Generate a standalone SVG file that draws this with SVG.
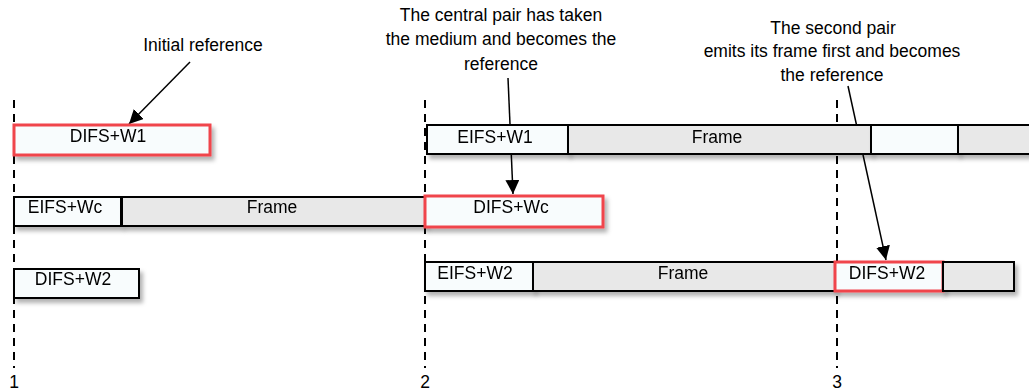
<svg xmlns="http://www.w3.org/2000/svg" width="1029" height="392" viewBox="0 0 1029 392">
<defs>
<filter id="sh" x="-5%" y="-20%" width="115%" height="160%">
<feDropShadow dx="3" dy="4" stdDeviation="2" flood-color="#000" flood-opacity="0.3"/>
</filter>
<marker id="ah2" viewBox="0 0 14 14" refX="14" refY="7" markerWidth="14" markerHeight="14" markerUnits="userSpaceOnUse" orient="auto">
<path d="M0,0 L14,7 L0,14 z" fill="#000"/>
</marker>
</defs>
<style>
text{font-family:"Liberation Sans",Arial,sans-serif;font-size:17.5px;fill:#000;text-anchor:middle}
.b{font-size:17.5px}
.w{fill:#f8fcfd;stroke:#000;stroke-width:2}
.g{fill:#e8e8e8;stroke:#000;stroke-width:2}
.r{fill:#f8fcfd;stroke:#f0444c;stroke-width:3}
.d{stroke:#000;stroke-width:2;stroke-dasharray:8 6;fill:none}
.c{stroke:#000;stroke-width:1.5;fill:none}
</style>
<g id="timelines">
<line class="d" x1="14" y1="100" x2="14" y2="368"/>
<line class="d" x1="425" y1="100" x2="425" y2="368"/>
<line class="d" x1="837" y1="100" x2="837" y2="368"/>
<text x="14" y="388">1</text>
<text x="425" y="388">2</text>
<text x="837" y="388">3</text>
</g>
<g id="connectors">
<line class="c" x1="190" y1="62" x2="129" y2="124" marker-end="url(#ah2)"/>
<line class="c" x1="508" y1="78" x2="513" y2="194" marker-end="url(#ah2)"/>
<line class="c" x1="848" y1="86" x2="886" y2="260" marker-end="url(#ah2)"/>
</g>
<g id="difs-w1-left" filter="url(#sh)"><rect class="r" x="14" y="125" width="196" height="30"/><text class="b" x="108" y="142">DIFS+W1</text></g>
<g id="eifs-wc-left" filter="url(#sh)"><rect class="w" x="14" y="197" width="107" height="29"/><text class="b" x="65" y="213">EIFS+Wc</text></g>
<g id="frame-left" filter="url(#sh)"><rect class="g" x="122" y="197" width="303" height="29"/><text class="b" x="272" y="213">Frame</text></g>
<g id="difs-w2-left" filter="url(#sh)"><rect class="w" x="14" y="269" width="125" height="29"/><text class="b" x="73" y="285">DIFS+W2</text></g>
<g id="eifs-w1-right" filter="url(#sh)"><rect class="w" x="427" y="125" width="141" height="29"/><text class="b" x="495" y="143">EIFS+W1</text></g>
<g id="frame-row1" filter="url(#sh)"><rect class="g" x="568" y="125" width="303" height="29"/><text class="b" x="717" y="143">Frame</text></g>
<g id="blank-row1" filter="url(#sh)"><rect class="w" x="871" y="125" width="87" height="29"/></g>
<g id="gray-row1" filter="url(#sh)"><rect class="g" x="958" y="125" width="80" height="29"/></g>
<g id="difs-wc-right" filter="url(#sh)"><rect class="r" x="425" y="196" width="178" height="31"/><text class="b" x="511" y="213">DIFS+Wc</text></g>
<g id="eifs-w2-right" filter="url(#sh)"><rect class="w" x="425" y="262" width="108" height="29"/><text class="b" x="475" y="279">EIFS+W2</text></g>
<g id="frame-row3" filter="url(#sh)"><rect class="g" x="533" y="262" width="302" height="29"/><text class="b" x="683" y="279">Frame</text></g>
<g id="difs-w2-right" filter="url(#sh)"><rect class="r" x="835" y="262" width="108" height="29"/><text class="b" x="887" y="279">DIFS+W2</text></g>
<g id="gray-row3" filter="url(#sh)"><rect class="g" x="943" y="262" width="71" height="29"/></g>
<g id="annotations">
<text x="203" y="51">Initial reference</text>
<text x="501" y="21">The central pair has taken</text>
<text x="501" y="45">the medium and becomes the</text>
<text x="501" y="70">reference</text>
<text x="833" y="34">The second pair</text>
<text x="832" y="57">emits its frame first and becomes</text>
<text x="832" y="81">the reference</text>
</g>
</svg>
